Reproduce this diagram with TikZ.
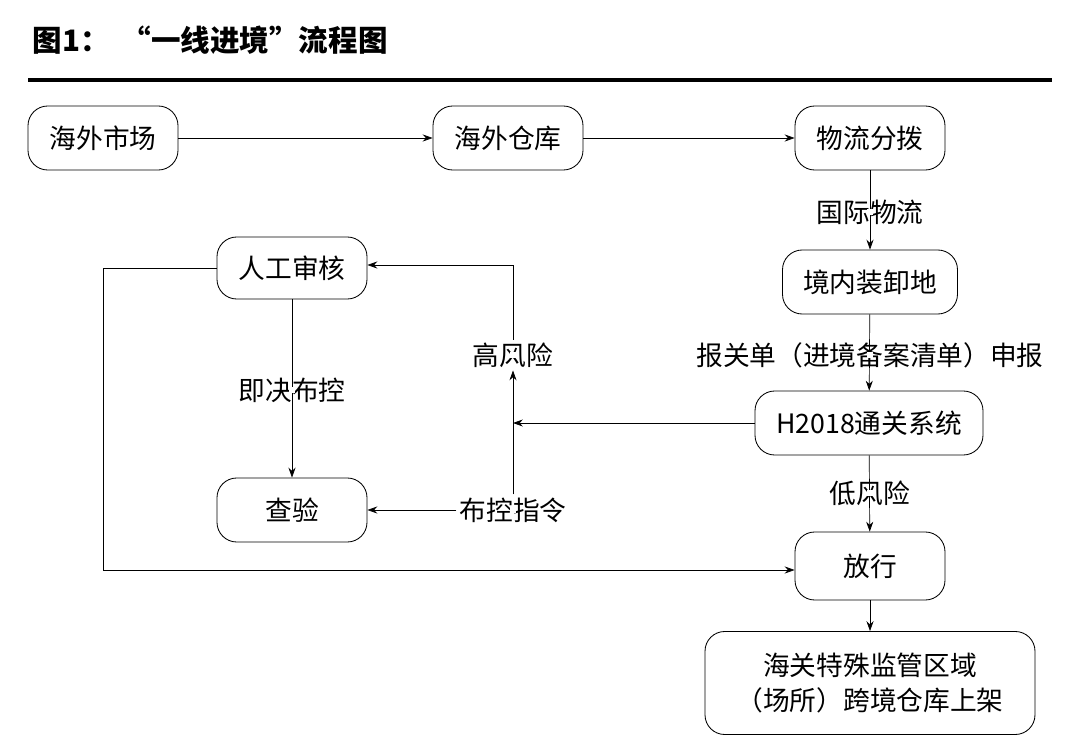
\documentclass[tikz,border=0pt]{standalone}
\usepackage{fontspec}
\setmainfont{Noto Sans CJK SC}
\usetikzlibrary{arrows.meta}

\begin{document}
\begin{tikzpicture}[x=0.025cm,y=-0.025cm,
    box/.style={draw,rounded corners=14pt,line width=0.6pt,font=\fontsize{19}{25}\selectfont,
      minimum width=150*0.025cm,minimum height=64*0.025cm,align=center,inner sep=2pt},
    lbl/.style={fill=white,font=\fontsize{19}{23}\selectfont,inner sep=2pt},
    arr/.style={-{Stealth[length=7pt,width=5pt]},line width=0.5pt}]
    \useasboundingbox (0,0) rectangle (1080,755);
    \node[anchor=west,font=\fontsize{21}{25}\bfseries\selectfont] (T) at (28,40) {图1：\hspace{0.4em}“一线进境”流程图};
    \draw[line width=2.5pt] (28,80) -- (1052,80);

    \node[box] (SC) at (103,138) {海外市场};
    \node[box] (CK) at (508,138) {海外仓库};
    \node[box] (FB) at (870,138) {物流分拨};
    \node[box,minimum width=175*0.025cm] (ZX) at (870,282) {境内装卸地};
    \node[box,minimum width=228*0.025cm] (HS) at (869,423) {H2018通关系统};
    \node[box,minimum height=68*0.025cm] (FX) at (870,566) {放行};
    \node[box,minimum width=330*0.025cm,minimum height=103*0.025cm] (SJ) at (870,683)
      {海关特殊监管区域\\（场所）跨境仓库上架};
    \node[box,minimum height=62*0.025cm] (RG) at (292,268) {人工审核};
    \node[box] (CY) at (292,510) {查验};

    \node[lbl] (L1) at (870,212) {国际物流};
    \node[lbl] (L2) at (870,355) {报关单（进境备案清单）申报};
    \node[lbl] (L3) at (870,493) {低风险};
    \node[lbl] (L4) at (292,390) {即决布控};
    \node[lbl] (L5) at (513,355) {高风险};
    \node[lbl] (L6) at (513,510) {布控指令};
    \coordinate (J) at (513,423);

    \draw[arr] (SC) -- (CK);
    \draw[arr] (CK) -- (FB);
    \draw[arr] (FB) -- (ZX);
    \draw[arr] (ZX) -- (HS);
    \draw[arr] (HS) -- (FX);
    \draw[arr] (FX) -- (SJ);
    \draw[arr] (RG) -- (CY);
    \draw[arr] (HS) -- (J);
    \draw[arr] (L6.north) -- (L5.south);
    \draw[arr] (L5.north) |- (RG.east |- 0,265);
    \draw[arr] (L6) -- (CY);
    \draw[arr] (RG.west) -| (103,570) -- (FX.west |- 0,570);
    \foreach \n in {L1,L2,L3,L4,L5,L6} \node[lbl] at (\n) {\phantom{}};
\end{tikzpicture}
\end{document}
